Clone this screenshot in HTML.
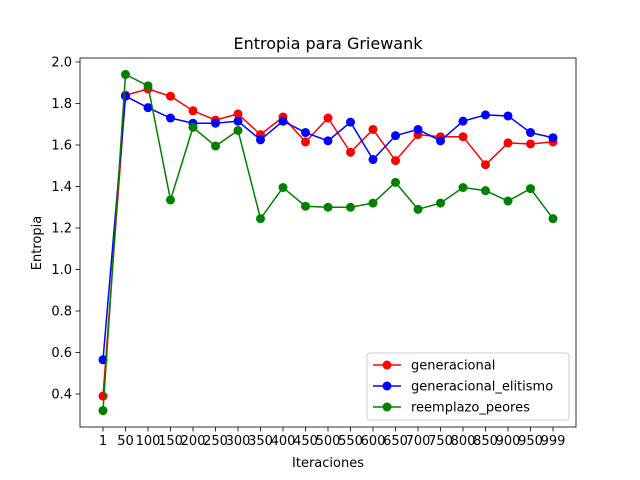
<!DOCTYPE html>
<html><head><meta charset="utf-8"><style>
body{margin:0;background:#fff;}
svg{display:block;font-family:"DejaVu Sans","Liberation Sans",sans-serif;}
</style></head><body>
<svg id="chart" width="640" height="480"></svg>
<script>
const categories=["1","50","100","150","200","250","300","350","400","450","500","550","600","650","700","750","800","850","900","950","999"];
const generacional=[0.39,1.84,1.87,1.835,1.765,1.72,1.75,1.65,1.735,1.615,1.73,1.565,1.675,1.525,1.65,1.64,1.64,1.505,1.61,1.605,1.615];
const elitismo=[0.565,1.835,1.78,1.73,1.705,1.705,1.715,1.625,1.715,1.66,1.62,1.71,1.53,1.645,1.675,1.62,1.715,1.745,1.74,1.66,1.635];
const peores=[0.32,1.94,1.885,1.335,1.685,1.595,1.67,1.245,1.395,1.305,1.30,1.30,1.32,1.42,1.29,1.32,1.395,1.38,1.33,1.39,1.245];
const yTicks=[0.4,0.6,0.8,1.0,1.2,1.4,1.6,1.8,2.0];
const seriesNames=["generacional","generacional_elitismo","reemplazo_peores"];
const colors=["#ff0000","#0000ff","#008000"];
const L=80,R=576,T=58,B=427;
const xs=i=>103+i*(553-103)/(categories.length-1);
const ys=v=>62+(2.0-v)*(394-62)/1.6;
const NS="http://www.w3.org/2000/svg";
const svg=document.getElementById('chart');
function mk(tag,attrs,parent){const e=document.createElementNS(NS,tag);for(const k in attrs)e.setAttribute(k,attrs[k]);(parent||svg).appendChild(e);return e;}
let t=mk('text',{x:328,y:49,'text-anchor':'middle','font-size':16});t.textContent='Entropia para Griewank';


categories.forEach((c,i)=>{
  const g=mk('g',{});
  
  
  mk('line',{x1:xs(i),x2:xs(i),y1:B,y2:B+4.5,stroke:'#000','stroke-width':0.8},g);
  const tx=mk('text',{x:xs(i),y:B+18,'text-anchor':'middle','font-size':13},g);tx.textContent=c;
});
yTicks.forEach(v=>{
  const g=mk('g',{});
  
  
  mk('line',{x1:L-4.5,x2:L,y1:ys(v),y2:ys(v),stroke:'#000','stroke-width':0.8},g);
  const tx=mk('text',{x:L-8,y:ys(v)+4.5,'text-anchor':'end','font-size':13},g);tx.textContent=v.toFixed(1);
});
t=mk('text',{x:328,y:467,'text-anchor':'middle','font-size':13});t.textContent='Iteraciones';


t=mk('text',{x:41,y:243,'text-anchor':'middle','font-size':13,transform:'rotate(-90 41 243)'});t.textContent='Entropia';


[generacional,elitismo,peores].forEach((d,s)=>{
  const g=mk('g',{});
  
  
  mk('polyline',{points:d.map((v,i)=>xs(i)+','+ys(v)).join(' '),fill:'none',stroke:colors[s],'stroke-width':1.5},g);
  d.forEach((v,i)=>{const c=mk('circle',{cx:xs(i),cy:ys(v),r:4.5,fill:colors[s]},g);
    
    });
});
const frame=mk('rect',{x:L,y:T,width:R-L,height:B-T,fill:'none',stroke:'#000','stroke-width':0.8});


const lg=mk('g',{});


mk('rect',{x:367,y:353,width:202,height:67,rx:3,fill:'#fff','fill-opacity':0.8,stroke:'#ccc'},lg);
seriesNames.forEach((n,s)=>{
  const y=365+s*21;
  const e=mk('g',{},lg);
  
  
  mk('line',{x1:373,x2:401,y1:y,y2:y,stroke:colors[s],'stroke-width':1.5},e);
  mk('circle',{cx:387,cy:y,r:4.5,fill:colors[s]},e);
  const tx=mk('text',{x:411,y:y+4.5,'font-size':13},e);tx.textContent=n;
});
</script>
</body></html>
